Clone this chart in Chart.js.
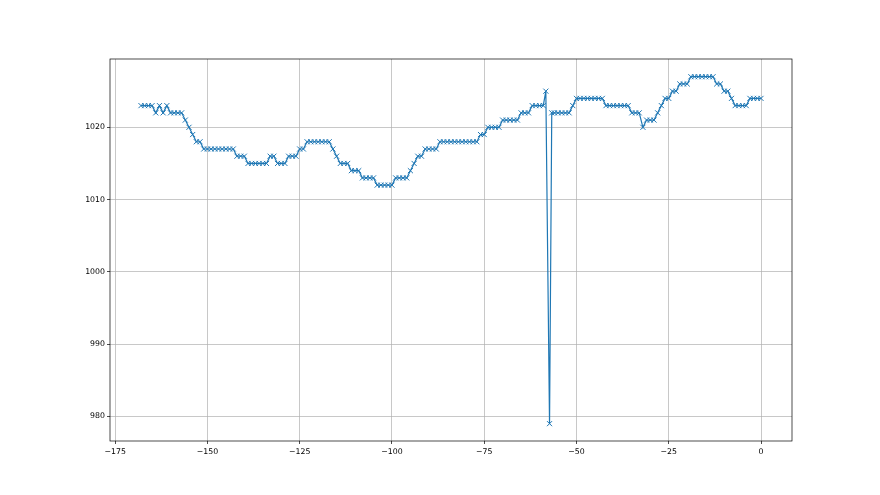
<!DOCTYPE html>
<html>
<head>
<meta charset="utf-8">
<script src="https://cdn.jsdelivr.net/npm/chart.js@4/dist/chart.umd.min.js"></script>
<style>
  body { margin: 0; background: #fff; }
  canvas { display: block; }
</style>
</head>
<body>
<canvas id="pressureChart" width="880" height="495"></canvas>
<script>
  // hourly readings, except around the glitch near -57 h where the spacing is uneven
  const startHour = -168;
  const spikeHours = [-58.3, -57.3, -56.7];
  const pressure = [
    1023, 1023, 1023, 1023, 1022, 1023, 1022, 1023, 1022, 1022, 1022, 1022,
    1021, 1020, 1019, 1018, 1018,
    1017, 1017, 1017, 1017, 1017, 1017, 1017, 1017, 1017,
    1016, 1016, 1016,
    1015, 1015, 1015, 1015, 1015, 1015,
    1016, 1016, 1015, 1015, 1015, 1016, 1016, 1016, 1017, 1017,
    1018, 1018, 1018, 1018, 1018, 1018, 1018,
    1017, 1016, 1015, 1015, 1015, 1014, 1014, 1014,
    1013, 1013, 1013, 1013, 1012, 1012, 1012, 1012, 1012,
    1013, 1013, 1013, 1013, 1014, 1015, 1016, 1016,
    1017, 1017, 1017, 1017,
    1018, 1018, 1018, 1018, 1018, 1018, 1018, 1018, 1018, 1018, 1018,
    1019, 1019, 1020, 1020, 1020, 1020,
    1021, 1021, 1021, 1021, 1021, 1022, 1022, 1022,
    1023, 1023, 1023, 1023,
    1025, 979, 1022,
    1022, 1022, 1022, 1022, 1022, 1023,
    1024, 1024, 1024, 1024, 1024, 1024, 1024, 1024,
    1023, 1023, 1023, 1023, 1023, 1023, 1023,
    1022, 1022, 1022, 1020, 1021, 1021, 1021, 1022, 1023,
    1024, 1024, 1025, 1025, 1026, 1026, 1026,
    1027, 1027, 1027, 1027, 1027, 1027, 1027,
    1026, 1026, 1025, 1025, 1024, 1023, 1023, 1023, 1023,
    1024, 1024, 1024, 1024
  ];
  const hours = [];
  for (let h = startHour; h <= -59; h++) hours.push(h);
  hours.push(...spikeHours);
  for (let h = -56; h <= 0; h++) hours.push(h);

  const xTicks = [-175, -150, -125, -100, -75, -50, -25, 0];
  const yTicks = [980, 990, 1000, 1010, 1020];

  const fmt = v => String(v).replace('-', '\u2212');

  // matplotlib-like box around the plot area
  const frame = {
    id: 'frame',
    afterDraw(chart) {
      const a = chart.chartArea, ctx = chart.ctx;
      ctx.save();
      ctx.strokeStyle = '#000';
      ctx.lineWidth = 0.7;
      ctx.strokeRect(a.left, a.top, a.right - a.left, a.bottom - a.top);
      ctx.restore();
    }
  };

  const tickFont = { family: 'DejaVu Sans', size: 7.8 };

  const pressureChart = new Chart(document.getElementById('pressureChart').getContext('2d'), {
    type: 'line',
    data: {
      datasets: [{
        data: hours.map((h, i) => ({ x: h, y: pressure[i] })),
        borderColor: '#1f77b4',
        borderWidth: 1.2,
        pointStyle: 'crossRot',
        pointRadius: 3.6,
        pointBorderWidth: 1,
        pointBorderColor: '#1f77b4',
        pointHoverRadius: 3.6,
        tension: 0
      }]
    },
    options: {
      responsive: false,
      animation: false,
      events: [],
      layout: { padding: { left: 50, right: 88, top: 59, bottom: 0 } },
      plugins: { legend: { display: false }, tooltip: { enabled: false } },
      scales: {
        x: {
          type: 'linear',
          min: -176.4,
          max: 8.4,
          afterBuildTicks: s => { s.ticks = xTicks.map(v => ({ value: v })); },
          afterFit: s => { s.height = 54; },
          border: { display: false },
          grid: { color: '#b0b0b0', lineWidth: 0.7, tickColor: '#000', tickLength: 3 },
          ticks: { color: '#000', font: tickFont, padding: 3, maxRotation: 0, callback: fmt }
        },
        y: {
          min: 976.6,
          max: 1029.45,
          afterBuildTicks: s => { s.ticks = yTicks.map(v => ({ value: v })); },
          afterFit: s => { s.width = 60; },
          border: { display: false },
          grid: { color: '#b0b0b0', lineWidth: 0.7, tickColor: '#000', tickLength: 3 },
          ticks: { color: '#000', font: tickFont, padding: 2, callback: fmt }
        }
      }
    },
    plugins: [frame]
  });
</script>
</body>
</html>
